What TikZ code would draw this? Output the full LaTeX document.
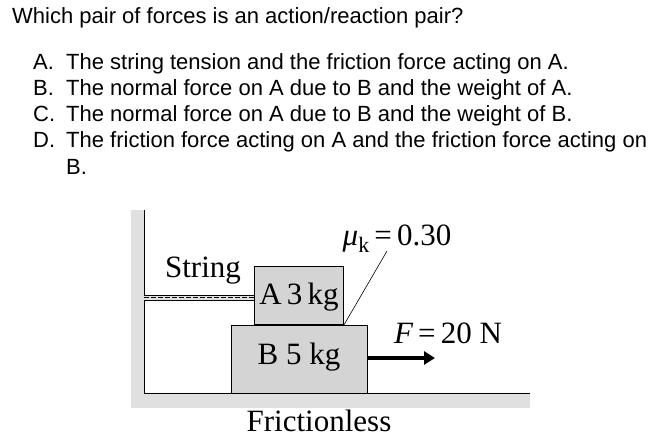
\documentclass[tikz,border=0pt]{standalone}
\usepackage{fontspec}
\setmainfont{Liberation Serif}
\newfontfamily\qfont{Liberation Sans}
\usetikzlibrary{arrows.meta}
\begin{document}
\begin{tikzpicture}[x=1pt,y=-1pt,
  q/.style={anchor=base west,inner sep=0,font=\qfont\fontsize{22}{24}\selectfont},
  lab/.style={inner sep=0,font=\fontsize{31}{34}\selectfont},
  blk/.style={draw,fill=black!17,line width=0.9pt}]
\useasboundingbox (0,0) rectangle (663,447);
\node[q] (t0) at (12,23) {Which pair of forces is an action/reaction pair?};
\node[q] (la) at (33,69) {A.}; \node[q] (ta) at (66,69) {The string tension and the friction force acting on A.};
\node[q] (lb) at (33,95) {B.}; \node[q] (tb) at (66,95) {The normal force on A due to B and the weight of A.};
\node[q] (lc) at (33,121) {C.}; \node[q] (tc) at (66,121) {The normal force on A due to B and the weight of B.};
\node[q] (ld) at (33,147) {D.}; \node[q] (td) at (66,147) {The friction force acting on A and the friction force acting on};
\node[q] (te) at (66,174) {B.};
% shadows
\fill[black!12] (131,210) rectangle (144,395);
\fill[black!12] (131,393) rectangle (530,408);
\draw[line width=1pt] (144,210) -- (144,393) -- (530,393);
% string
\fill[black!12] (144,295) rectangle (254,300);
\draw[line width=0.5pt] (144,295) -- (254,295) (144,300) -- (254,300);
\draw[line width=0.4pt,dash pattern=on 5pt off 2pt] (144,297.5) -- (254,297.5);
\node[blk,minimum width=136,minimum height=68,anchor=north west] (B) at (231,325) {};
\node[blk,minimum width=89,minimum height=58,anchor=south west] (A) at (254,325) {};
\node[lab] at (299,297) {A\,3\,kg};
\node[lab] at (299,357) {B 5 kg};
\coordinate (ae) at (435,358);
\draw[line width=4pt,-{Triangle[length=11pt,width=13pt]}] (B.east|-ae) -- (ae);
\node[lab] at (203,271) {String};
\node[lab] (mu) at (397,239) {{\itshape μ}\raisebox{-0.22em}{\fontsize{22}{24}\selectfont k}\,=\,0.30};
\draw[line width=0.6pt] (A.south east) -- (387,251);
\node[lab] at (448,333) {{\itshape F}\,=\,20 N};
\node[lab] at (319,421) {Frictionless};
\end{tikzpicture}
\end{document}
